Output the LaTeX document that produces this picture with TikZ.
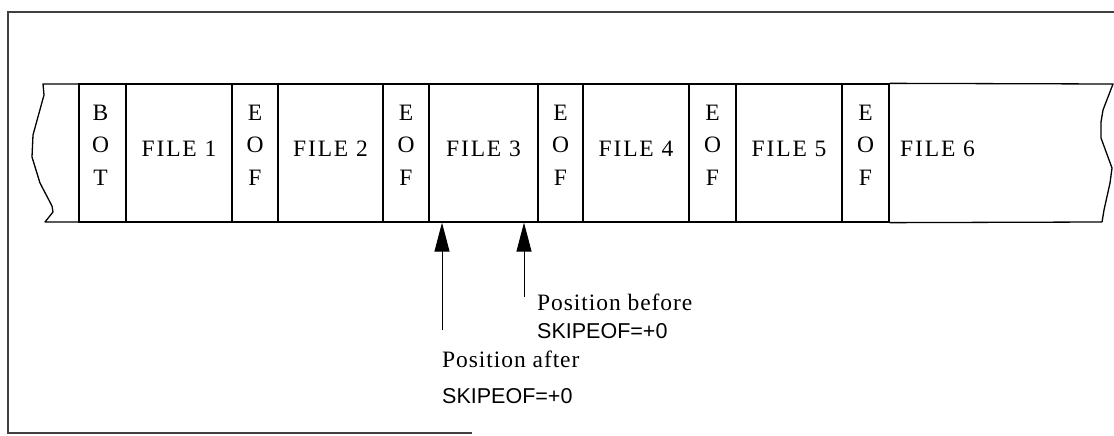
\documentclass[tikz,border=0pt]{standalone}
\usepackage{fontspec}
\setmainfont{Liberation Serif}
\newfontfamily\tapefont[LetterSpace=8]{Liberation Serif}
\newfontfamily\notefont[LetterSpace=4]{Liberation Serif}
\newfontfamily\sansnote{Liberation Sans}
\usetikzlibrary{arrows.meta}
\begin{document}
\begin{tikzpicture}[x=1pt,y=-1pt,
  tape/.style={line width=1.3pt, line join=round},
  frame/.style={line width=1.1pt, draw=black!75},
  cell/.style={draw, line width=1.3pt, minimum height=138pt, inner sep=0pt},
  celltext/.style={inner sep=0pt, align=center, font=\tapefont\fontsize{23.5}{32.5}\selectfont},
  notetext/.style={anchor=base west, inner sep=0pt, font=\notefont\fontsize{23.5}{26}\selectfont},
  sanstext/.style={anchor=base west, inner sep=0pt, font=\sansnote\fontsize{21.5}{26}\selectfont},
  pointer/.style={line width=1pt, -{Triangle[length=29pt,width=15pt]}}]
\useasboundingbox (0,0) rectangle (1114,436);
% outer frame (as visible)
\draw[frame] (1114,12) -- (8,12) -- (8,433) -- (472,433);
% left torn end of the tape
\draw[tape] (79,84) -- (43,84) -- (44,95) -- (33,135) -- (32,157) -- (40,183)
  -- (52,206) -- (53,212) -- (45,222) -- (79,222);
% cells
\node[cell, minimum width=47pt]  (bot) at (102.5,153) {};
\node[cell, minimum width=106pt] (f1)  at (179,153)   {};
\node[cell, minimum width=46pt]  (e1)  at (255,153)   {};
\node[cell, minimum width=105pt] (f2)  at (330.5,153) {};
\node[cell, minimum width=46pt]  (e2)  at (406,153)   {};
\node[cell, minimum width=109pt] (f3)  at (483.5,153) {};
\node[cell, minimum width=45pt]  (e3)  at (560.5,153) {};
\node[cell, minimum width=106pt] (f4)  at (636,153)   {};
\node[cell, minimum width=47pt]  (e4)  at (712.5,153) {};
\node[cell, minimum width=106pt] (f5)  at (789,153)   {};
\node[cell, minimum width=47pt]  (e5)  at (865.5,153) {};
% cell texts
\node[celltext] (tbot) at ([xshift=-2pt,yshift=8pt]bot.center) {B\\O\\T};
\node[celltext] (tf1)  at ([yshift=4pt]f1.center) {FILE 1};
\node[celltext] (te1)  at ([yshift=8pt]e1.center) {E\\O\\F};
\node[celltext] (tf2)  at ([yshift=4pt]f2.center) {FILE 2};
\node[celltext] (te2)  at ([yshift=8pt]e2.center) {E\\O\\F};
\node[celltext] (tf3)  at ([yshift=4pt]f3.center) {FILE 3};
\node[celltext] (te3)  at ([yshift=8pt]e3.center) {E\\O\\F};
\node[celltext] (tf4)  at ([yshift=4pt]f4.center) {FILE 4};
\node[celltext] (te4)  at ([yshift=8pt]e4.center) {E\\O\\F};
\node[celltext] (tf5)  at ([yshift=4pt]f5.center) {FILE 5};
\node[celltext] (te5)  at ([yshift=8pt]e5.center) {E\\O\\F};
% right torn end of the tape
\draw[tape] (e5.north east) -- (1113,84) -- (1103,110) -- (1101,122) -- (1101,138)
  -- (1112,168) -- (1110,183) -- (1104,210) -- (1102,222) -- (e5.south east);
\node[celltext, anchor=west] (tf6) at (900,149) {FILE 6};
% position pointers
\coordinate (tipA) at (442,222.6);
\coordinate (tipB) at (524,222.6);
\coordinate (tailA) at (442,330);
\coordinate (tailB) at (524,297);
\draw[pointer] (tailA) -- (tipA);
\draw[pointer] (tailB) -- (tipB);
% labels
\node[notetext] (pb1) at (537,310) {Position before};
\node[sanstext] (pb2) at (537,338) {SKIPEOF=+0};
\node[notetext] (pa1) at (442,367) {Position after};
\node[sanstext] (pa2) at (442,403) {SKIPEOF=+0};
\end{tikzpicture}
\end{document}
